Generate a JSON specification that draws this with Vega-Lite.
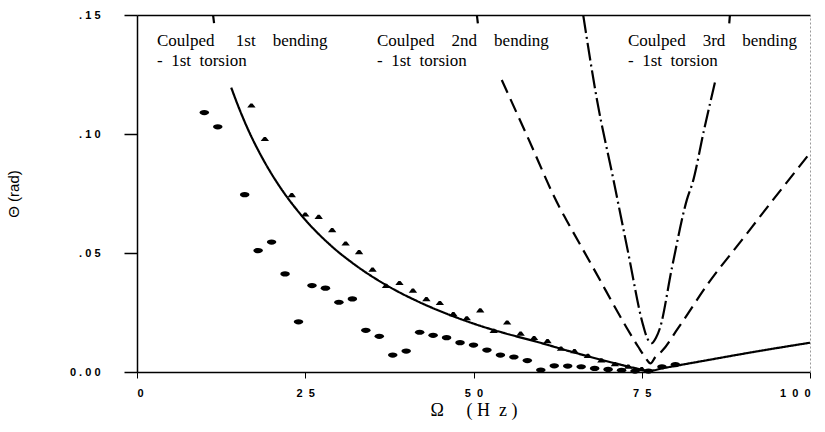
{
  "$schema": "https://vega.github.io/schema/vega-lite/v6.json",
  "width": 673,
  "height": 357,
  "autosize": {"type": "none"},
  "padding": {"left": 137, "top": 15, "right": 15, "bottom": 60},
  "background": "white",
  "config": {
    "view": {"stroke": null},
    "axis": {"grid": false, "domainColor": "black", "tickColor": "black", "labelColor": "black", "titleColor": "black"}
  },
  "datasets": {
    "curves": [
      {"curve": "solid", "seg": "s1", "omega": 11.3, "theta": 0.150},
      {"curve": "solid", "seg": "s1", "omega": 11.45, "theta": 0.1466},
      {"curve": "solid", "seg": "s2", "omega": 14.0, "theta": 0.1195},
      {"curve": "solid", "seg": "s2", "omega": 15.0, "theta": 0.1120},
      {"curve": "solid", "seg": "s2", "omega": 16.5, "theta": 0.1019},
      {"curve": "solid", "seg": "s2", "omega": 18.3, "theta": 0.0916},
      {"curve": "solid", "seg": "s2", "omega": 20.0, "theta": 0.0832},
      {"curve": "solid", "seg": "s2", "omega": 21.25, "theta": 0.0777},
      {"curve": "solid", "seg": "s2", "omega": 24.2, "theta": 0.0666},
      {"curve": "solid", "seg": "s2", "omega": 28.7, "theta": 0.0534},
      {"curve": "solid", "seg": "s2", "omega": 32.6, "theta": 0.0446},
      {"curve": "solid", "seg": "s2", "omega": 37.1, "theta": 0.0364},
      {"curve": "solid", "seg": "s2", "omega": 42.0, "theta": 0.0293},
      {"curve": "solid", "seg": "s2", "omega": 47.0, "theta": 0.0234},
      {"curve": "solid", "seg": "s2", "omega": 51.0, "theta": 0.0194},
      {"curve": "solid", "seg": "s2", "omega": 54.4, "theta": 0.0165},
      {"curve": "solid", "seg": "s2", "omega": 59.4, "theta": 0.0127},
      {"curve": "solid", "seg": "s2", "omega": 64.3, "theta": 0.0087},
      {"curve": "solid", "seg": "s2", "omega": 69.3, "theta": 0.0049},
      {"curve": "solid", "seg": "s2", "omega": 74.2, "theta": 0.0015},
      {"curve": "solid", "seg": "s2", "omega": 76.0, "theta": 0.0004},
      {"curve": "solid", "seg": "s2", "omega": 78.0, "theta": 0.0015},
      {"curve": "solid", "seg": "s2", "omega": 85.0, "theta": 0.0051},
      {"curve": "solid", "seg": "s2", "omega": 92.0, "theta": 0.0086},
      {"curve": "solid", "seg": "s2", "omega": 100.0, "theta": 0.0123},
      {"curve": "dash", "seg": "d1", "omega": 50.5, "theta": 0.150},
      {"curve": "dash", "seg": "d1", "omega": 50.65, "theta": 0.1465},
      {"curve": "dash", "seg": "d2", "omega": 54.2, "theta": 0.1227},
      {"curve": "dash", "seg": "d2", "omega": 58.0, "theta": 0.099},
      {"curve": "dash", "seg": "d2", "omega": 62.85, "theta": 0.0688},
      {"curve": "dash", "seg": "d2", "omega": 63.8, "theta": 0.0639},
      {"curve": "dash", "seg": "d2", "omega": 68.0, "theta": 0.0427},
      {"curve": "dash", "seg": "d2", "omega": 72.8, "theta": 0.0184},
      {"curve": "dash", "seg": "d2", "omega": 74.5, "theta": 0.0105},
      {"curve": "dash", "seg": "d2", "omega": 75.5, "theta": 0.0062},
      {"curve": "dash", "seg": "d2", "omega": 76.3, "theta": 0.0036},
      {"curve": "dash", "seg": "d2", "omega": 77.0, "theta": 0.0062},
      {"curve": "dash", "seg": "d2", "omega": 78.0, "theta": 0.0088},
      {"curve": "dash", "seg": "d2", "omega": 80.4, "theta": 0.0184},
      {"curve": "dash", "seg": "d2", "omega": 84.9, "theta": 0.0373},
      {"curve": "dash", "seg": "d2", "omega": 90.0, "theta": 0.0559},
      {"curve": "dash", "seg": "d2", "omega": 94.5, "theta": 0.0723},
      {"curve": "dash", "seg": "d2", "omega": 100.0, "theta": 0.092},
      {"curve": "dashdot", "seg": "c1", "omega": 66.3, "theta": 0.150},
      {"curve": "dashdot", "seg": "c1", "omega": 68.35, "theta": 0.1143},
      {"curve": "dashdot", "seg": "c1", "omega": 70.8, "theta": 0.0807},
      {"curve": "dashdot", "seg": "c1", "omega": 72.9, "theta": 0.0513},
      {"curve": "dashdot", "seg": "c1", "omega": 75.2, "theta": 0.0197},
      {"curve": "dashdot", "seg": "c1", "omega": 75.8, "theta": 0.0143},
      {"curve": "dashdot", "seg": "c1", "omega": 76.5, "theta": 0.0121},
      {"curve": "dashdot", "seg": "c1", "omega": 77.1, "theta": 0.0143},
      {"curve": "dashdot", "seg": "c1", "omega": 77.7, "theta": 0.0184},
      {"curve": "dashdot", "seg": "c1", "omega": 79.5, "theta": 0.044},
      {"curve": "dashdot", "seg": "c1", "omega": 81.7, "theta": 0.0723},
      {"curve": "dashdot", "seg": "c1", "omega": 82.6, "theta": 0.080},
      {"curve": "dashdot", "seg": "c1", "omega": 84.2, "theta": 0.101},
      {"curve": "dashdot", "seg": "c1", "omega": 85.9, "theta": 0.122},
      {"curve": "dashdot", "seg": "c2", "omega": 88.0, "theta": 0.1465},
      {"curve": "dashdot", "seg": "c2", "omega": 88.1, "theta": 0.150}
    ],
    "circles": [
      {"omega": 10, "theta": 0.109},
      {"omega": 12, "theta": 0.103},
      {"omega": 16, "theta": 0.0745},
      {"omega": 18, "theta": 0.051},
      {"omega": 20, "theta": 0.0546},
      {"omega": 22, "theta": 0.0412},
      {"omega": 24, "theta": 0.0211},
      {"omega": 26, "theta": 0.0363},
      {"omega": 28, "theta": 0.0352},
      {"omega": 30, "theta": 0.0293},
      {"omega": 32, "theta": 0.0307},
      {"omega": 34, "theta": 0.0175},
      {"omega": 36, "theta": 0.015},
      {"omega": 38, "theta": 0.0071},
      {"omega": 40, "theta": 0.0088},
      {"omega": 42, "theta": 0.0167},
      {"omega": 44, "theta": 0.0154},
      {"omega": 46, "theta": 0.0144},
      {"omega": 48, "theta": 0.0123},
      {"omega": 50, "theta": 0.0113},
      {"omega": 52, "theta": 0.0092},
      {"omega": 54, "theta": 0.0071},
      {"omega": 56, "theta": 0.0063},
      {"omega": 58, "theta": 0.0048},
      {"omega": 60, "theta": 0.0008},
      {"omega": 62, "theta": 0.0026},
      {"omega": 64, "theta": 0.0025},
      {"omega": 66, "theta": 0.0022},
      {"omega": 68, "theta": 0.0015},
      {"omega": 70, "theta": 0.0011},
      {"omega": 72, "theta": 0.0007},
      {"omega": 74, "theta": 0.0004},
      {"omega": 76, "theta": 0.0004},
      {"omega": 78, "theta": 0.0022},
      {"omega": 80, "theta": 0.0031}
    ],
    "triangles": [
      {"omega": 17, "theta": 0.1119},
      {"omega": 19, "theta": 0.0978},
      {"omega": 23, "theta": 0.0742},
      {"omega": 25, "theta": 0.0661},
      {"omega": 27, "theta": 0.0651},
      {"omega": 29, "theta": 0.0595},
      {"omega": 31, "theta": 0.0539},
      {"omega": 33, "theta": 0.0503},
      {"omega": 35, "theta": 0.0429},
      {"omega": 37, "theta": 0.0361},
      {"omega": 39, "theta": 0.0373},
      {"omega": 41, "theta": 0.0341},
      {"omega": 43, "theta": 0.0305},
      {"omega": 45, "theta": 0.0289},
      {"omega": 47, "theta": 0.0242},
      {"omega": 49, "theta": 0.0225},
      {"omega": 51, "theta": 0.0258},
      {"omega": 53, "theta": 0.0172},
      {"omega": 55, "theta": 0.0207},
      {"omega": 57, "theta": 0.016},
      {"omega": 59, "theta": 0.0142},
      {"omega": 61, "theta": 0.0129},
      {"omega": 63, "theta": 0.0097},
      {"omega": 65, "theta": 0.0087},
      {"omega": 67, "theta": 0.0067},
      {"omega": 69, "theta": 0.0048},
      {"omega": 71, "theta": 0.0032},
      {"omega": 73, "theta": 0.0022},
      {"omega": 75, "theta": 0.0011}
    ],
    "labels": [
      {"omega": 2.97, "theta": 0.1371, "label": "Coulped\u00a0\u00a0\u00a0\u00a0\u00a01st\u00a0\u00a0\u00a0\u00a0bending\n-\u00a0\u00a01st\u00a0\u00a0torsion"},
      {"omega": 35.66, "theta": 0.1371, "label": "Coulped\u00a0\u00a0\u00a0\u00a02nd\u00a0\u00a0\u00a0\u00a0bending\n-\u00a0\u00a01st\u00a0\u00a0torsion"},
      {"omega": 72.96, "theta": 0.1371, "label": "Coulped\u00a0\u00a0\u00a0\u00a03rd\u00a0\u00a0\u00a0\u00a0bending\n-\u00a0\u00a01st\u00a0\u00a0torsion"}
    ]
  },
  "layer": [
    {
      "data": {"name": "curves"},
      "mark": {"type": "line", "color": "black", "strokeWidth": 2.2, "clip": true, "interpolate": "monotone"},
      "encoding": {
        "x": {
          "field": "omega", "type": "quantitative",
          "scale": {"domain": [0, 100], "nice": false},
          "axis": {
            "orient": "bottom", "values": [0, 25, 50, 75, 100],
            "labelExpr": "datum.value == 0 ? '0' : datum.value == 25 ? '2\u00a0\u00a05' : datum.value == 50 ? '5\u00a0\u00a00' : datum.value == 75 ? '7\u00a0\u00a05' : '1\u00a0\u00a00\u00a0\u00a00'",
            "tickSize": 6, "labelPadding": 9, "labelFont": "Liberation Sans", "labelFontWeight": "bold", "labelFontSize": 11,
            "domainWidth": 1.5, "tickWidth": 1,
            "title": "Ω\u00a0\u00a0\u00a0\u00a0\u00a0(\u00a0H\u00a0\u00a0z\u00a0)",
            "titleFont": "Liberation Serif", "titleFontSize": 18, "titleFontWeight": "normal", "titlePadding": 3
          }
        },
        "y": {
          "field": "theta", "type": "quantitative",
          "scale": {"domain": [0, 0.15], "nice": false},
          "axis": {
            "orient": "left", "values": [0, 0.05, 0.1, 0.15],
            "labelExpr": "datum.value < 0.01 ? '0\u00a0.\u00a00\u00a00' : datum.value < 0.07 ? '.\u00a00\u00a05' : datum.value < 0.12 ? '.\u00a01\u00a00' : '.\u00a01\u00a05'",
            "tickSize": 13, "labelPadding": 24, "labelFont": "Liberation Sans", "labelFontWeight": "bold", "labelFontSize": 11,
            "domainWidth": 1.5, "tickWidth": 1.5,
            "title": "Θ (rad)", "titleFont": "Liberation Sans", "titleFontSize": 15, "titleFontWeight": "normal", "titlePadding": 48
          }
        },
        "detail": {"field": "seg", "type": "nominal"},
        "strokeDash": {
          "field": "curve", "type": "nominal",
          "scale": {"domain": ["solid", "dash", "dashdot"], "range": [[1, 0], [14, 7], [18, 4, 2, 4]]},
          "legend": null
        }
      }
    },
    {
      "data": {"name": "circles"},
      "mark": {"type": "point", "shape": "M-1,0A1,0.55,0,1,1,1,0A1,0.55,0,1,1,-1,0Z", "filled": true, "color": "black", "opacity": 1, "size": 90, "strokeWidth": 0},
      "encoding": {
        "x": {"field": "omega", "type": "quantitative", "axis": {"orient": "top", "labels": false, "ticks": false, "title": null, "domainWidth": 1.5}},
        "y": {"field": "theta", "type": "quantitative", "axis": {"orient": "right", "labels": false, "ticks": false, "title": null, "domainDash": [2, 2], "domainColor": "#999"}}
      }
    },
    {
      "data": {"name": "triangles"},
      "mark": {"type": "point", "shape": "M-1,0.45L1,0.45L0.25,-0.55L-0.25,-0.55Z", "filled": true, "color": "black", "opacity": 1, "size": 70, "strokeWidth": 0},
      "encoding": {
        "x": {"field": "omega", "type": "quantitative", "axis": null},
        "y": {"field": "theta", "type": "quantitative", "axis": null}
      }
    },
    {
      "data": {"name": "labels"},
      "mark": {"type": "text", "align": "left", "baseline": "alphabetic", "font": "Liberation Serif", "fontSize": 17, "lineHeight": 20, "lineBreak": "\n", "color": "black"},
      "encoding": {
        "x": {"field": "omega", "type": "quantitative", "axis": null},
        "y": {"field": "theta", "type": "quantitative", "axis": null},
        "text": {"field": "label", "type": "nominal"}
      }
    }
  ],
  "resolve": {"axis": {"x": "independent", "y": "independent"}}
}
